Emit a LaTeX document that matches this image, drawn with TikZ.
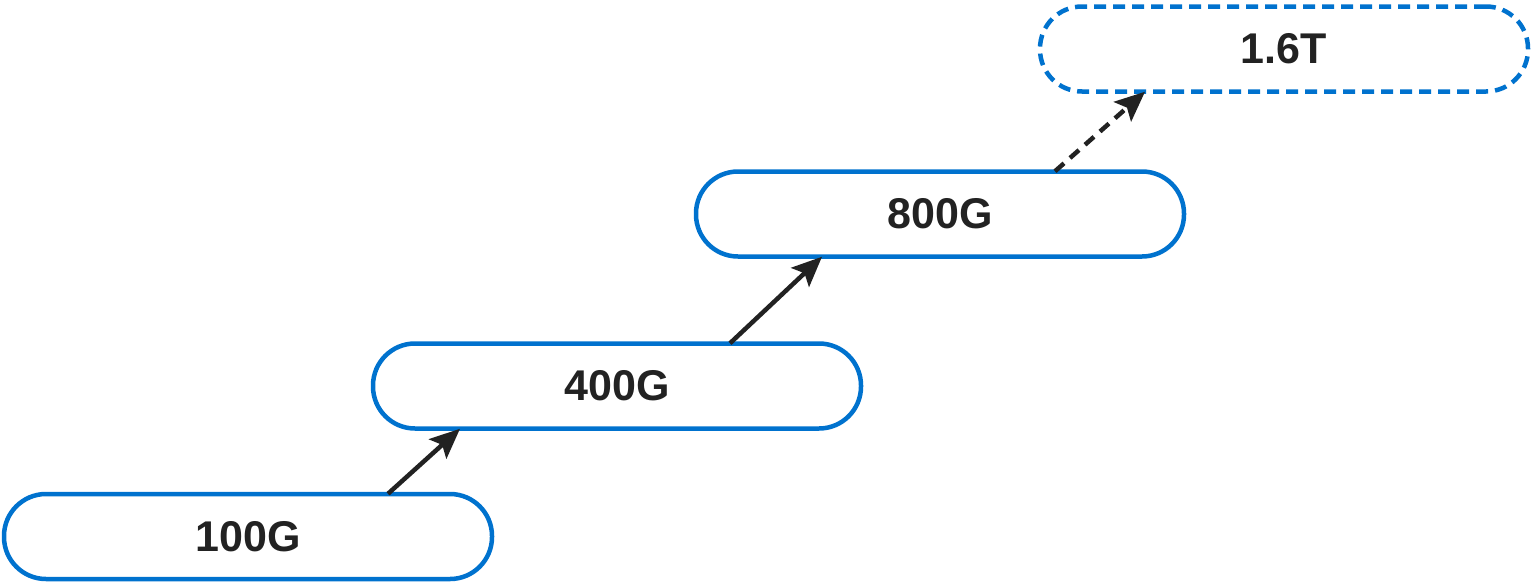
\documentclass[tikz,border=0pt]{standalone}
\usepackage{fontspec}
\setmainfont{Liberation Sans}
\usetikzlibrary{arrows.meta}
\definecolor{boxblue}{HTML}{0072CE}
\definecolor{inkgray}{HTML}{222222}
\begin{document}
\begin{tikzpicture}[x=1pt,y=-1pt,
    speed/.style={draw=boxblue, line width=4.5pt, fill=white, rectangle,
        rounded corners=42pt, minimum width=488pt, minimum height=85pt,
        text=inkgray, font=\fontsize{43}{50}\selectfont\bfseries},
    nextspeed/.style={speed, dash pattern=on 12pt off 7pt},
    step up/.style={draw=inkgray, line width=4.5pt,
        -{Stealth[length=30pt,width=26pt,inset=6pt]}},
    ]
    \useasboundingbox (0,0) rectangle (1531,584);

    % the speed boxes
    \node[speed] (g100) at (248,536.5) {100G};
    \node[speed] (g400) at (617,386) {400G};
    \node[speed] (g800) at (940,214) {800G};
    \node[nextspeed] (t16) at (1284,49) {1.6T};

    % arrows between them
    \draw[step up] ([xshift=140pt,yshift=-2pt]g100.north) -- ([xshift=-157pt,yshift=2pt]g400.south);
    \draw[step up] ([xshift=113pt,yshift=-2pt]g400.north) -- ([xshift=-118pt,yshift=2pt]g800.south);
    \draw[step up, dash pattern=on 12pt off 8pt] ([xshift=115pt,yshift=-2pt]g800.north) -- ([xshift=-139pt,yshift=2pt]t16.south);
\end{tikzpicture}
\end{document}
